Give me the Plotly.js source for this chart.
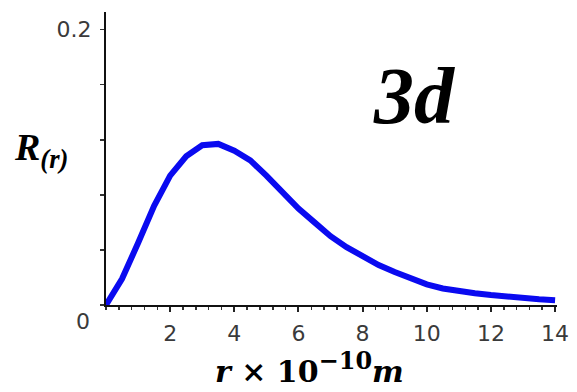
<!DOCTYPE html>
<html>
<head>
<meta charset="utf-8">
<script src="https://cdn.plot.ly/plotly-3.0.1.min.js"></script>
<style>html,body{margin:0;padding:0;background:#fff;}#chart{width:577px;height:392px;}</style>
</head>
<body>
<div id="chart"></div>
<script>
const rValues = [0,0.5,1,1.5,2,2.5,3,3.5,4,4.5,5,5.5,6,6.5,7,7.5,8,8.5,9,9.5,10,10.5,11,11.5,12,12.5,13,13.5,14];
const radialValues = [0,0.019,0.045,0.072,0.094,0.108,0.116,0.117,0.112,0.105,0.094,0.082,0.070,0.060,0.050,0.042,0.035,0.029,0.024,0.019,0.015,0.012,0.010,0.0085,0.0072,0.006,0.005,0.0042,0.0035];
const xTickVals = [2,4,6,8,10,12,14];
const xTickText = ['2','4','6','8','10','12','14'];
const yTickVals = [0,0.04,0.08,0.12,0.16,0.2];
const yTickText = ['','','','','','0.2'];

const tickFont = {family:'DejaVu Sans', size:22, color:'#3a3a3a'};

const trace = {
  x: rValues, y: radialValues, type:'scatter', mode:'lines',
  line:{color:'rgb(10,10,240)', width:6}, hoverinfo:'skip'
};

const xRange = [0,14.06];
const layout = {
  width:577, height:392,
  margin:{l:106, r:20, t:12, b:87, pad:0},
  paper_bgcolor:'#fff', plot_bgcolor:'#fff',
  showlegend:false,
  xaxis:{
    range:xRange, showgrid:false, zeroline:false,
    showline:true, linecolor:'#111', linewidth:2,
    tickmode:'array', tickvals:xTickVals, ticktext:xTickText,
    ticks:'outside', ticklen:5, tickwidth:2, tickcolor:'#222',
    minor:{tickmode:'linear', tick0:0, dtick:0.4, ticks:'outside', ticklen:3, tickwidth:1.5, tickcolor:'#333'},
    tickfont:tickFont, ticklabelstandoff:3
  },
  yaxis:{
    range:[0,0.2128], showgrid:false, zeroline:false,
    showline:true, linecolor:'#111', linewidth:2,
    tickmode:'array', tickvals:yTickVals, ticktext:yTickText,
    ticks:'outside', ticklen:4, tickwidth:1.5, tickcolor:'#333',
    tickfont:tickFont, ticklabelstandoff:4
  },
  annotations:[
    {xref:'paper', yref:'paper', x:-0.05, y:-0.055, xanchor:'center', yanchor:'middle',
     text:'0', showarrow:false, font:tickFont},
    {xref:'paper', yref:'paper', x:0.683, y:0.713, xanchor:'center', yanchor:'middle',
     text:'<b><i>3d</i></b>', showarrow:false,
     font:{family:'Liberation Serif', size:80, color:'#000'}},
    {xref:'paper', yref:'paper', x:-0.145, y:0.53, xanchor:'center', yanchor:'middle',
     text:'<b><i>R</i></b><sub><b><i>(r)</i></b></sub>', showarrow:false,
     font:{family:'Liberation Serif', size:38, color:'#000'}},
    {xref:'paper', yref:'paper', x:0.452, y:-0.215, xanchor:'center', yanchor:'middle',
     text:'<b><i>r</i> × 10<sup><span style="font-size:24px">−10</span></sup><i>m</i></b>', showarrow:false,
     font:{family:'DejaVu Serif', size:30, color:'#000'}}
  ]
};

Plotly.newPlot('chart', [trace], layout, {staticPlot:true, displayModeBar:false});
</script>
</body>
</html>
